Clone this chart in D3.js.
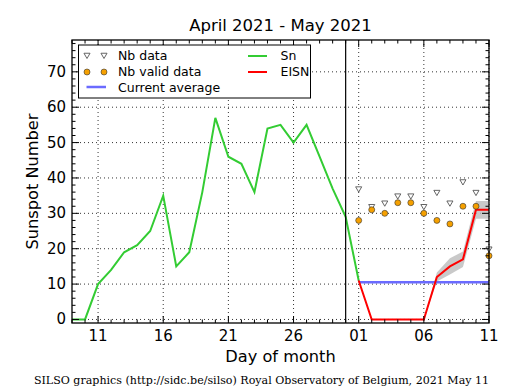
<!DOCTYPE html>
<html><head><meta charset="utf-8">
<script src="https://cdn.jsdelivr.net/npm/d3@7"></script>
<style>body{margin:0;background:#fff}svg{display:block}text{font-family:"DejaVu Sans",sans-serif}</style>
</head><body><svg id="c" width="515" height="390"></svg>
<script>
// Data
const snDays = ["2021-04-09","2021-04-10","2021-04-11","2021-04-12","2021-04-13","2021-04-14","2021-04-15","2021-04-16","2021-04-17","2021-04-18","2021-04-19","2021-04-20","2021-04-21","2021-04-22","2021-04-23","2021-04-24","2021-04-25","2021-04-26","2021-04-27","2021-04-28","2021-04-29","2021-04-30","2021-05-01"];
const snValues = [0,0,10,14,19,21,25,35,15,19,36,57,46,44,36,54,55,50,55,46,37,29,11];
const eisnDays = ["2021-05-01","2021-05-02","2021-05-03","2021-05-04","2021-05-05","2021-05-06","2021-05-07","2021-05-08","2021-05-09","2021-05-10","2021-05-11"];
const eisnValues = [11,0,0,0,0,0,12,15,17,31,31];
const eisnErr = [0,0,0,0,0,0,1.3,2.3,2.2,2.5,2.5];
const nbData = [37,32,33,35,35,32,36,33,39,36,20];
const nbValid = [28,31,30,33,33,30,28,27,32,32,18];
const currentAverage = 10.5;
const lastMonthEnd = "2021-04-30";
const yTicks = [0,10,20,30,40,50,60,70];
const xTickDays = ["2021-04-11","2021-04-16","2021-04-21","2021-04-26","2021-05-01","2021-05-06","2021-05-11"];

const parse = d3.utcParse("%Y-%m-%d");
const svg = d3.select("#c");
const L=72,R=489,T=40,B=323;
const x = d3.scaleUtc().domain([parse("2021-04-09"),parse("2021-05-11")]).range([L,R]);
const y = d3.scaleLinear().domain([-1,79]).range([B,T]);

svg.append("clipPath").attr("id","clp").append("rect").attr("x",L).attr("y",T).attr("width",R-L).attr("height",B-T);

// grid
const g = svg.append("g");
xTickDays.forEach(d=>{g.append("line").attr("x1",x(parse(d))).attr("x2",x(parse(d))).attr("y1",T).attr("y2",B).attr("stroke","#000").attr("stroke-width",0.8).attr("stroke-dasharray","1,3");});
yTicks.forEach(v=>{g.append("line").attr("x1",L).attr("x2",R).attr("y1",y(v)).attr("y2",y(v)).attr("stroke","#000").attr("stroke-width",0.8).attr("stroke-dasharray","1,3");});

const plot = svg.append("g").attr("clip-path","url(#clp)");
// band
const band = eisnDays.map((d,i)=>({d:parse(d),lo:eisnValues[i]-eisnErr[i],hi:eisnValues[i]+eisnErr[i]}));
plot.append("path").datum(band).attr("fill","#bbbbbb").attr("opacity",0.8)
 .attr("d",d3.area().x(p=>x(p.d)).y0(p=>y(p.lo)).y1(p=>y(p.hi)));
// current average
plot.append("line").attr("x1",x(parse("2021-05-01"))).attr("x2",R).attr("y1",y(currentAverage)).attr("y2",y(currentAverage)).attr("stroke","#6b6bff").attr("stroke-width",2.5);
// Sn
plot.append("path").datum(snDays.map((d,i)=>[parse(d),snValues[i]])).attr("fill","none").attr("stroke","#33cc33").attr("stroke-width",2)
 .attr("d",d3.line().x(p=>x(p[0])).y(p=>y(p[1])));
// EISN
plot.append("path").datum(eisnDays.map((d,i)=>[parse(d),eisnValues[i]])).attr("fill","none").attr("stroke","#ff0000").attr("stroke-width",2)
 .attr("d",d3.line().x(p=>x(p[0])).y(p=>y(p[1])));
// markers
const tri = d3.symbol().type(d3.symbolTriangle).size(16);
eisnDays.forEach((d,i)=>{
  svg.append("path").attr("d",tri).attr("transform",`translate(${x(parse(d))},${y(nbData[i])}) rotate(180)`).attr("fill","#fff").attr("stroke","#555").attr("stroke-width",0.9);
  svg.append("circle").attr("cx",x(parse(d))).attr("cy",y(nbValid[i])).attr("r",3).attr("fill","#f5a000").attr("stroke","#333").attr("stroke-width",0.6);
});
// vertical line
svg.append("line").attr("x1",x(parse(lastMonthEnd))).attr("x2",x(parse(lastMonthEnd))).attr("y1",T).attr("y2",B).attr("stroke","#000").attr("stroke-width",1.2);

// frame
svg.append("rect").attr("x",L).attr("y",T).attr("width",R-L).attr("height",B-T).attr("fill","none").attr("stroke","#000").attr("stroke-width",1.3);
// ticks
const ax = svg.append("g");
const days = d3.utcDay.range(parse("2021-04-09"),d3.utcDay.offset(parse("2021-05-11"),1));
days.forEach(d=>{
  const major = xTickDays.some(s=>+parse(s)===+d);
  const len = major?7:3.5;
  ax.append("line").attr("x1",x(d)).attr("x2",x(d)).attr("y1",B).attr("y2",B-len).attr("stroke","#000");
  ax.append("line").attr("x1",x(d)).attr("x2",x(d)).attr("y1",T).attr("y2",T+len).attr("stroke","#000");
});
d3.range(0,80,2).forEach(v=>{
  const major = v%10===0; const len = major?7:3.5;
  ax.append("line").attr("x1",L).attr("x2",L+len).attr("y1",y(v)).attr("y2",y(v)).attr("stroke","#000");
  ax.append("line").attr("x1",R).attr("x2",R-len).attr("y1",y(v)).attr("y2",y(v)).attr("stroke","#000");
});
const fmt = d3.utcFormat("%d");
xTickDays.forEach(d=>{ax.append("text").attr("x",x(parse(d))).attr("y",B+18).attr("text-anchor","middle").attr("font-size",15).text(fmt(parse(d)));});
yTicks.forEach(v=>{ax.append("text").attr("x",L-6).attr("y",y(v)+5).attr("text-anchor","end").attr("font-size",15).text(v);});

svg.append("text").attr("x",(L+R)/2).attr("y",31).attr("text-anchor","middle").attr("font-size",16.5).text("April 2021 - May 2021");
svg.append("text").attr("x",(L+R)/2).attr("y",362).attr("text-anchor","middle").attr("font-size",16.2).text("Day of month");
svg.append("text").attr("transform",`translate(38,${(T+B)/2}) rotate(-90)`).attr("text-anchor","middle").attr("font-size",16.2).text("Sunspot Number");
svg.append("text").attr("x",261.5).attr("y",383.5).attr("text-anchor","middle").attr("font-size",11.07).style("font-family","'DejaVu Serif',serif").text("SILSO graphics (http://sidc.be/silso) Royal Observatory of Belgium, 2021 May 11");

// legend
const lg = svg.append("g");
lg.append("rect").attr("x",78.5).attr("y",45).attr("width",232).attr("height",53).attr("fill","#fff").attr("stroke","#000").attr("stroke-width",1);
[87,104].forEach(px=>{
  lg.append("path").attr("d",tri).attr("transform",`translate(${px},55) rotate(180)`).attr("fill","#fff").attr("stroke","#555").attr("stroke-width",0.9);
  lg.append("circle").attr("cx",px).attr("cy",72).attr("r",3).attr("fill","#f5a000").attr("stroke","#333").attr("stroke-width",0.6);
});
lg.append("line").attr("x1",86.5).attr("x2",106).attr("y1",87).attr("y2",87).attr("stroke","#6b6bff").attr("stroke-width",2.5);
lg.append("line").attr("x1",248).attr("x2",267).attr("y1",56).attr("y2",56).attr("stroke","#33cc33").attr("stroke-width",2);
lg.append("line").attr("x1",248).attr("x2",267).attr("y1",72).attr("y2",72).attr("stroke","#ff0000").attr("stroke-width",2);
[["Nb data",118,60],["Nb valid data",118,76],["Current average",118,91.5],["Sn",280.5,60],["EISN",280.5,76]].forEach(t=>{
  lg.append("text").attr("x",t[1]).attr("y",t[2]).attr("font-size",12.5).text(t[0]);
});
</script></body></html>
